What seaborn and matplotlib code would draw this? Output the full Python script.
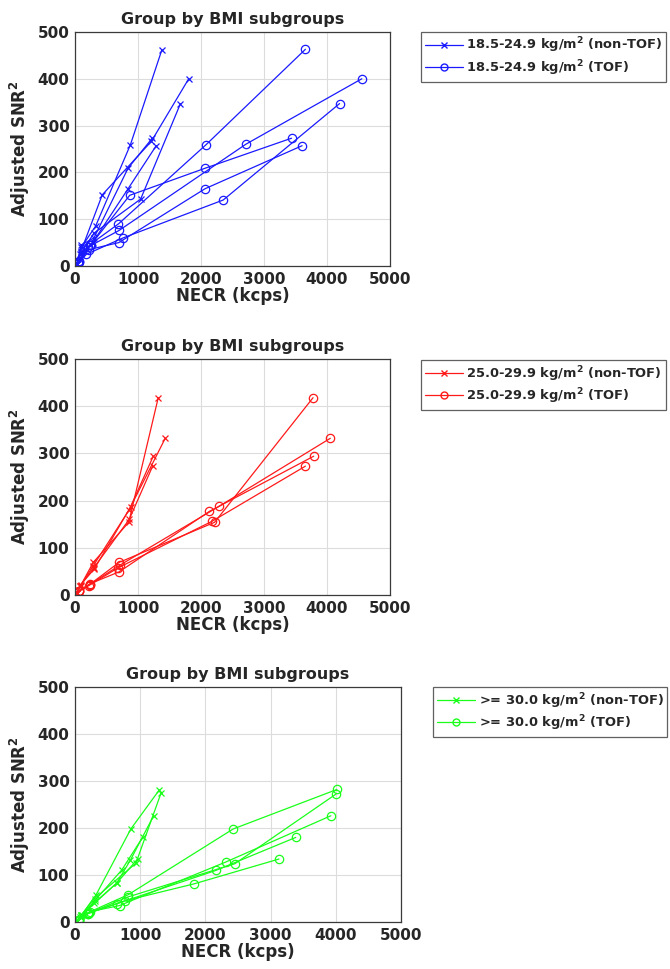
import matplotlib
matplotlib.use("Agg")
import matplotlib.pyplot as plt
from matplotlib.lines import Line2D
import seaborn as sns
import pandas as pd

# NECR (kcps) and adjusted SNR^2 per patient, one inner list per patient
normal_nontof_necr = [[30, 100, 326, 879, 1379], [30, 90, 432, 1210, 1805],
                      [30, 80, 300, 1042, 1674], [30, 90, 280, 842, 1289],
                      [30, 100, 300, 842, 1226]]
normal_nontof_snr = [[5, 40, 85, 259, 462], [5, 30, 152, 266, 400],
                     [5, 25, 70, 143, 347], [5, 25, 50, 165, 257],
                     [5, 45, 60, 209, 273]]
normal_tof_necr = [[60, 230, 690, 2079, 3658], [60, 200, 700, 2710, 4553],
                   [50, 180, 763, 2353, 4200], [50, 220, 695, 2063, 3605],
                   [70, 250, 868, 2068, 3437]]
normal_tof_snr = [[8, 45, 90, 259, 463], [10, 40, 76, 260, 400],
                  [6, 25, 60, 141, 347], [7, 35, 50, 165, 257],
                  [8, 45, 151, 209, 273]]

over_nontof_necr = [[30, 90, 289, 853, 1321], [30, 90, 305, 884, 1432],
                    [30, 80, 290, 858, 1242], [30, 85, 300, 860, 1232]]
over_nontof_snr = [[5, 20, 69, 154, 418], [5, 22, 55, 187, 332],
                   [5, 18, 62, 180, 294], [5, 20, 58, 160, 273]]
over_tof_necr = [[60, 230, 700, 2216, 3779], [60, 230, 711, 2289, 4053],
                 [60, 240, 700, 2132, 3789], [60, 220, 690, 2174, 3658]]
over_tof_snr = [[8, 22, 69, 154, 418], [8, 22, 63, 188, 332],
                [8, 24, 49, 177, 294], [8, 20, 58, 156, 273]]

obese_nontof_necr = [[30, 100, 323, 856, 1292], [30, 90, 300, 933, 1318],
                     [30, 95, 640, 846, 1205], [30, 90, 300, 718, 1036],
                     [30, 80, 290, 641, 959]]
obese_nontof_snr = [[3, 15, 58, 198, 281], [3, 14, 50, 125, 274],
                    [3, 14, 83, 131, 226], [3, 12, 45, 111, 180],
                    [3, 10, 40, 83, 134]]
obese_tof_necr = [[60, 200, 815, 2426, 4015], [60, 200, 805, 2451, 4000],
                  [60, 230, 682, 2318, 3923], [60, 210, 641, 2164, 3385],
                  [60, 200, 760, 1821, 3128]]
obese_tof_snr = [[5, 20, 58, 198, 282], [5, 18, 53, 124, 272],
                 [5, 22, 35, 128, 226], [5, 20, 39, 110, 180],
                 [5, 18, 45, 81, 134]]

group_labels = ["18.5-24.9 kg/m$^2$", "25.0-29.9 kg/m$^2$", ">= 30.0 kg/m$^2$"]
group_colors = ["#1a1aff", "#ff1a1a", "#1aff1a"]
x_ticks = [0, 1000, 2000, 3000, 4000, 5000]
y_ticks = [0, 100, 200, 300, 400, 500]

groups = [
    (normal_nontof_necr, normal_nontof_snr, normal_tof_necr, normal_tof_snr),
    (over_nontof_necr, over_nontof_snr, over_tof_necr, over_tof_snr),
    (obese_nontof_necr, obese_nontof_snr, obese_tof_necr, obese_tof_snr),
]

sns.set_style("whitegrid")
plt.rcParams["font.family"] = ["DejaVu Sans"]
plt.rcParams["font.weight"] = "bold"
plt.rcParams["mathtext.default"] = "bf"

fig = plt.figure(figsize=(6.7, 9.69), dpi=100)
axes_boxes = [
    [0.112, 0.7255, 0.470, 0.2415],
    [0.112, 0.386, 0.470, 0.2435],
    [0.112, 0.0485, 0.4866, 0.2425],
]
legend_anchor = [(0.628, 0.967), (0.628, 0.6285), (0.646, 0.291)]


def to_frame(necr, snr):
    rows = []
    for pid, (xs, ys) in enumerate(zip(necr, snr)):
        for order, (x, y) in enumerate(zip(xs, ys)):
            rows.append({"patient": pid, "order": order, "necr": x, "snr": y})
    return pd.DataFrame(rows)


for i, (nt_x, nt_y, t_x, t_y) in enumerate(groups):
    ax = fig.add_axes(axes_boxes[i])
    color = group_colors[i]
    for xs, ys, mk, mfc in [(nt_x, nt_y, "x", color), (t_x, t_y, "o", "none")]:
        df = to_frame(xs, ys)
        sns.lineplot(data=df, x="necr", y="snr", units="patient",
                     estimator=None, sort=False, color=color, lw=0.9,
                     marker=mk, markersize=6 if mk == "o" else 5,
                     markerfacecolor=mfc, markeredgecolor=color,
                     markeredgewidth=0.9, ax=ax, legend=False)
    ax.set_xlim(0, 5000)
    ax.set_ylim(0, 500)
    ax.set_xticks(x_ticks)
    ax.set_yticks(y_ticks)
    ax.tick_params(labelsize=11, direction="in", length=3, color="#333333",
                   pad=4)
    for lab in ax.get_xticklabels() + ax.get_yticklabels():
        lab.set_fontweight("bold")
    ax.grid(True, color="#dcdcdc", lw=0.8)
    for sp in ax.spines.values():
        sp.set_color("#3a3a3a")
        sp.set_linewidth(0.9)
    ax.set_title("Group by BMI subgroups", fontsize=11.5, fontweight="bold",
                 pad=6)
    ax.set_xlabel("NECR (kcps)", fontsize=12, fontweight="bold", labelpad=0)
    ax.set_ylabel("Adjusted SNR$^2$", fontsize=12, fontweight="bold",
                  labelpad=4)

    handles = [
        Line2D([], [], color=color, lw=0.9, marker="x", markersize=4,
               label=f"{group_labels[i]} (non-TOF)"),
        Line2D([], [], color=color, lw=0.9, marker="o", markersize=5,
               markerfacecolor="none", label=f"{group_labels[i]} (TOF)"),
    ]
    leg = fig.legend(handles=handles, loc="upper left",
                     bbox_to_anchor=legend_anchor[i],
                     bbox_transform=fig.transFigure, frameon=True,
                     fancybox=False, fontsize=9.4, handlelength=2.9,
                     handletextpad=0.3, borderpad=0.3, labelspacing=0.2,
                     borderaxespad=0)
    leg.get_frame().set_edgecolor("#3a3a3a")
    leg.get_frame().set_linewidth(0.9)
    for t in leg.get_texts():
        t.set_fontweight("bold")

fig.savefig("out.png", dpi=100)
